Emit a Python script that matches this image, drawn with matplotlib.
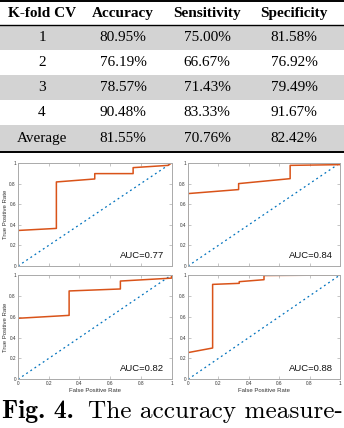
import matplotlib
matplotlib.use("Agg")
import matplotlib.pyplot as plt

# ---------------- data ----------------
table_header = ["K-fold CV", "Accuracy", "Sensitivity", "Specificity"]
fold_labels = ["1", "2", "3", "4", "Average"]
accuracy = ["80.95%", "76.19%", "78.57%", "90.48%", "81.55%"]
sensitivity = ["75.00%", "66.67%", "71.43%", "83.33%", "70.76%"]
specificity = ["81.58%", "76.92%", "79.49%", "91.67%", "82.42%"]

roc1_fpr = [0, 0, 0.25, 0.25, 0.50, 0.50, 0.75, 0.75, 0.978, 1.0]
roc1_tpr = [0, 0.345, 0.365, 0.816, 0.845, 0.897, 0.897, 0.955, 0.977, 1.0]
roc2_fpr = [0, 0, 0.333, 0.333, 0.672, 0.672, 1.0, 1.0]
roc2_tpr = [0, 0.703, 0.742, 0.80, 0.848, 0.977, 0.984, 1.0]
roc3_fpr = [0, 0, 0.333, 0.333, 0.667, 0.667, 1.0, 1.0]
roc3_tpr = [0, 0.585, 0.613, 0.847, 0.866, 0.942, 0.97, 1.0]
roc4_fpr = [0, 0, 0.162, 0.162, 0.337, 0.337, 0.50, 0.50, 1.0]
roc4_tpr = [0, 0.256, 0.30, 0.91, 0.92, 0.936, 0.955, 0.995, 1.0]
auc_labels = ["AUC=0.77", "AUC=0.84", "AUC=0.82", "AUC=0.88"]
diag = [0, 1]
ticks = [0, 0.2, 0.4, 0.6, 0.8, 1]
tick_labels = ["0", "0.2", "0.4", "0.6", "0.8", "1"]
caption_bold = "Fig. 4."
caption_rest = "The accuracy measure-"

W, H = 344, 428
fig = plt.figure(figsize=(W / 100, H / 100), dpi=100)


def rect(x0, y0, x1, y1):
    return [x0 / W, 1 - y1 / H, (x1 - x0) / W, (y1 - y0) / H]


# ---------------- table ----------------
tax = fig.add_axes(rect(0, 0, W, 153))
tax.set_xlim(0, W)
tax.set_ylim(153, 0)
tax.axis("off")
bounds = [1, 24.5, 49.5, 74.5, 99.5, 124.5, 151.5]
for i in range(len(fold_labels)):
    if i % 2 == 0:
        tax.axhspan(bounds[i + 1], bounds[i + 2], color="#d3d3d3", lw=0)
tax.axhline(bounds[0], color="black", lw=1.4)
tax.axhline(bounds[1], color="black", lw=1.0)
tax.axhline(bounds[-1], color="black", lw=1.4)
col_x = [42, 123, 207, 294]
serif = ["Liberation Serif", "DejaVu Serif"]
for cx, h in zip(col_x, table_header):
    tax.text(cx, (bounds[0] + bounds[1]) / 2 + 0.5, h, ha="center", va="center",
             fontsize=11, fontweight="bold", family=serif)
columns = [fold_labels, accuracy, sensitivity, specificity]
for i in range(len(fold_labels)):
    yc = (bounds[i + 1] + bounds[i + 2]) / 2 + 0.5
    for cx, col in zip(col_x, columns):
        tax.text(cx, yc, col[i], ha="center", va="center", fontsize=11,
                 family=serif)

# ---------------- ROC panels ----------------
panels = [
    (rect(18, 163, 171.5, 266), roc1_fpr, roc1_tpr, True, False),
    (rect(188, 163, 340, 266), roc2_fpr, roc2_tpr, False, False),
    (rect(18, 275, 171.5, 379.3), roc3_fpr, roc3_tpr, True, True),
    (rect(188, 275, 340, 379.3), roc4_fpr, roc4_tpr, False, True),
]
sans = ["Liberation Sans", "DejaVu Sans"]
for (pos, fpr, tpr, ylab, xlab), auc in zip(panels, auc_labels):
    ax = fig.add_axes(pos)
    ax.plot(diag, diag, color="#0072BD", lw=0.9, ls=(0, (1.5, 2.5)))
    ax.plot(fpr, tpr, color="#D95319", lw=1.1)
    ax.set_xlim(0, 1)
    ax.set_ylim(0, 1)
    ax.set_xticks(ticks)
    ax.set_yticks(ticks)
    ax.set_yticklabels(tick_labels, family=sans)
    if xlab:
        ax.set_xticklabels(tick_labels, family=sans)
        ax.set_xlabel("False Positive Rate", fontsize=4.3, family=sans,
                      color="#333333", labelpad=1)
    else:
        ax.set_xticklabels([])
    if ylab:
        ax.set_ylabel("True Positive Rate", fontsize=4.3, family=sans,
                      color="#333333", labelpad=1)
    ax.tick_params(direction="in", length=2, width=0.4, colors="#999999",
                   labelcolor="#333333", labelsize=3.4, pad=1.5,
                   top=True, right=True)
    for s in ax.spines.values():
        s.set_color("#aaaaaa")
        s.set_linewidth(0.7)
    ax.text(0.955, 0.06, auc, transform=ax.transAxes, ha="right", va="bottom",
            fontsize=6.8, family=sans, color="#111111")

# ---------------- caption ----------------
fig.text(2 / W, 1 - 418 / H, caption_bold, fontsize=18.5, family="cmb10",
         va="baseline", ha="left")
fig.text(88 / W, 1 - 418 / H, caption_rest, fontsize=18.2, family="cmr10",
         va="baseline", ha="left")

fig.savefig("out.png", dpi=100)
